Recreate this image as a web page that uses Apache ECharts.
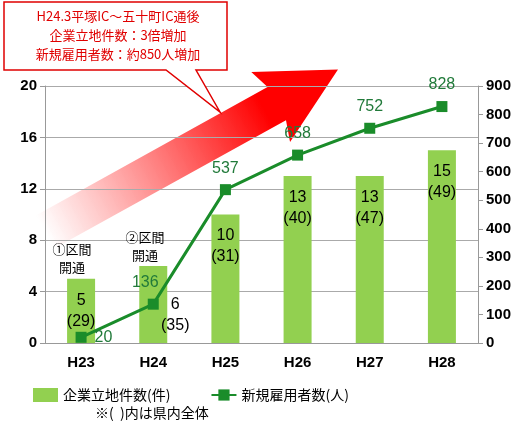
<!DOCTYPE html><html><head><meta charset="utf-8"><script src="https://cdn.jsdelivr.net/npm/echarts@6/dist/echarts.min.js"></script></head><body style="margin:0"><div id="c" style="width:528px;height:433px"></div><script>
const categories=['H23','H24','H25','H26','H27','H28'];
const firms=[5,6,10,13,13,15];
const firmsPref=[29,35,31,40,47,49];
const jobs=[20,136,537,658,752,828];
const leftTicks=[0,4,8,12,16,20];
const F='"Noto Sans CJK JP",sans-serif';
const ch=echarts.init(document.getElementById('c'));
const a=29*Math.PI/180;
ch.setOption({
animation:false,
grid:{left:45,right:50,top:86,bottom:90},
legend:{bottom:26,left:28,itemGap:40,textStyle:{fontFamily:F,fontSize:14,color:'#000'},
 data:[{name:'企業立地件数(件)',icon:'rect',itemWidth:66,itemHeight:14},{name:'新規雇用者数(人)',itemWidth:40}]},
xAxis:{type:'category',data:categories,axisTick:{show:false},axisLine:{lineStyle:{color:'#999'}},
 axisLabel:{fontFamily:'Arial',fontWeight:'bold',fontSize:15,color:'#000',margin:12}},
yAxis:[{type:'value',min:0,max:20,interval:4,axisLabel:{fontFamily:'Arial',fontWeight:'bold',fontSize:15,color:'#000'},
 splitLine:{lineStyle:{color:'#aaa'}},axisLine:{show:true,lineStyle:{color:'#999'}},axisTick:{show:true}},
 {type:'value',min:0,max:900,interval:100,axisLabel:{fontFamily:'Arial',fontWeight:'bold',fontSize:15,color:'#000'},
 splitLine:{show:false},axisLine:{show:true,lineStyle:{color:'#999'}},axisTick:{show:true}}],
series:[{name:'企業立地件数(件)',type:'bar',data:firms.map((v,i)=>({value:v,
  label:i==1?{show:true,position:'insideBottom',offset:[22,-2],formatter:v+'\n('+firmsPref[i]+')'}:{show:true}})),
 barWidth:28,itemStyle:{color:'#92d050'},
 label:{show:true,position:'insideTop',offset:[0,6],fontFamily:'Arial',fontSize:16,color:'#000',lineHeight:21,formatter:p=>p.value+'\n('+firmsPref[p.dataIndex]+')'}},
 {name:'新規雇用者数(人)',type:'line',yAxisIndex:1,data:jobs.map((v,i)=>i==0?{value:v,label:{position:'right'}}:(i==1?{value:v,label:{offset:[-8,0]}}:{value:v})),
 symbol:'rect',symbolSize:11,lineStyle:{color:'#1a8c2a',width:3},itemStyle:{color:'#1a8c2a'},z:5,
 label:{show:true,position:'top',distance:8,fontFamily:'Arial',fontSize:16,color:'#217a3a'}}],
graphic:[
 {type:'group',x:45,y:232,rotation:a,z:1,silent:true,children:[{type:'polygon',
  shape:{points:[[0,-19],[265,-19],[258,-40],[335,0],[258,40],[265,19],[0,19]]},
  style:{fill:new echarts.graphic.LinearGradient(0,0,1,0,[{offset:0,color:'rgba(255,255,255,0.9)'},{offset:0.75,color:'#ff0000'},{offset:1,color:'#ff0000'}])}}]},
 {type:'polygon',z:10,shape:{points:[[4,2],[227,2],[227,70],[196,70],[220,112],[166,70],[4,70]]},style:{fill:'#fff',stroke:'#e00000',lineWidth:1.5}},
 {type:'text',z:11,x:118,y:7,style:{text:'H24.3平塚IC～五十町IC通後\n企業立地件数：3倍増加\n新規雇用者数：約850人増加',fill:'#e00000',font:'13px '+F,lineHeight:19,align:'center'}},
 {type:'text',z:6,x:72,y:240,style:{text:'①区間\n開通',fill:'#000',font:'13px '+F,lineHeight:18,align:'center'}},
 {type:'text',z:6,x:145,y:228,style:{text:'②区間\n開通',fill:'#000',font:'13px '+F,lineHeight:18,align:'center'}},
 {type:'text',left:95,top:406,style:{text:'※(  )内は県内全体',fill:'#000',font:'14px '+F}}
]});
</script></body></html>
